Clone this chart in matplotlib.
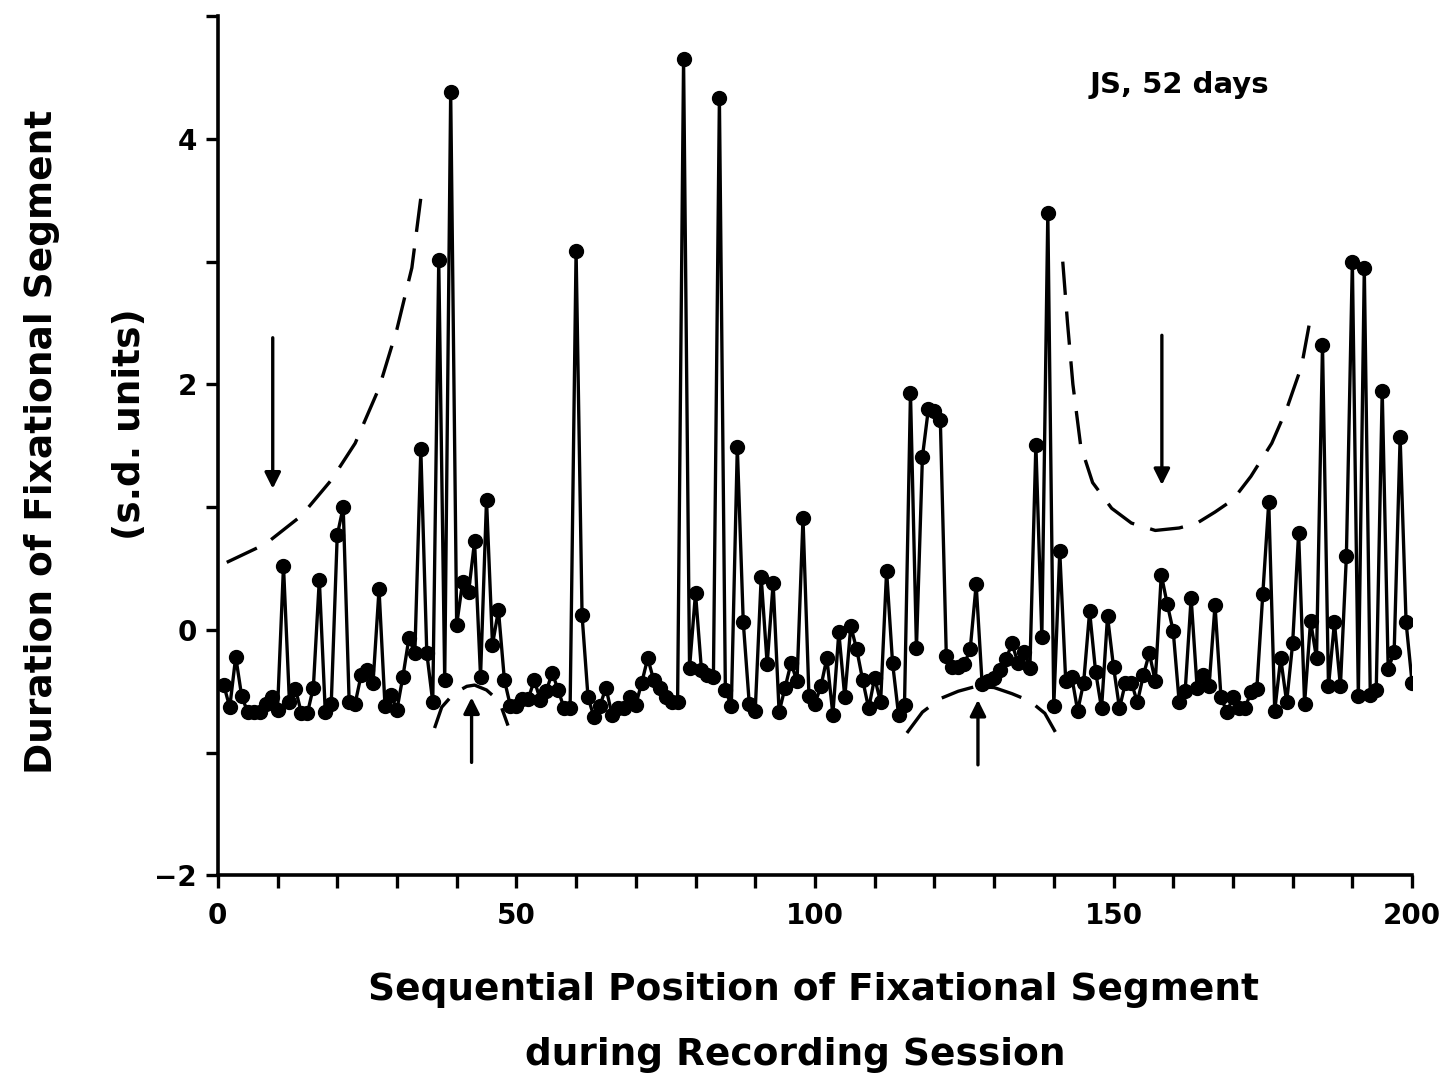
import numpy as np
import matplotlib
matplotlib.use("Agg")
import matplotlib.pyplot as plt
from matplotlib.ticker import MultipleLocator

plt.rcParams["font.family"] = ["DejaVu Sans"]
plt.rcParams["font.weight"] = "bold"

# Standardised durations, segment 1..200
durations = [
    -0.45, -0.63, -0.22, -0.54, -0.67, -0.67, -0.67, -0.60, -0.55, -0.65,
    0.52, -0.59, -0.48, -0.68, -0.68, -0.47, 0.41, -0.67, -0.60, 0.77,
    1.00, -0.59, -0.60, -0.37, -0.33, -0.43, 0.33, -0.62, -0.53, -0.65,
    -0.38, -0.07, -0.19, 1.47, -0.19, -0.59, 3.01, -0.41, 4.38, 0.04,
    0.39, 0.31, 0.72, -0.38, 1.06, -0.12, 0.16, -0.41, -0.62, -0.62,
    -0.56, -0.56, -0.41, -0.57, -0.50, -0.35, -0.49, -0.64, -0.64, 3.09,
    0.12, -0.55, -0.71, -0.62, -0.47, -0.69, -0.64, -0.64, -0.55, -0.61,
    -0.43, -0.23, -0.41, -0.47, -0.55, -0.59, -0.59, 4.65, -0.31, 0.30,
    -0.33, -0.37, -0.38, 4.33, -0.49, -0.62, 1.49, 0.06, -0.60, -0.66,
    0.43, -0.28, 0.38, -0.67, -0.47, -0.27, -0.42, 0.91, -0.54, -0.60,
    -0.46, -0.23, -0.69, -0.02, -0.55, 0.03, -0.16, -0.41, -0.64, -0.39,
    -0.59, 0.48, -0.27, -0.69, -0.61, 1.93, -0.15, 1.41, 1.80, 1.78,
    1.71, -0.21, -0.30, -0.30, -0.28, -0.16, 0.37, -0.44, -0.42, -0.39,
    -0.33, -0.24, -0.11, -0.27, -0.18, -0.31, 1.51, -0.06, 3.40, -0.62,
    0.64, -0.42, -0.38, -0.66, -0.43, 0.15, -0.34, -0.64, 0.11, -0.30,
    -0.64, -0.43, -0.43, -0.59, -0.37, -0.19, -0.42, 0.45, 0.21, -0.01,
    -0.59, -0.50, 0.26, -0.47, -0.37, -0.46, 0.20, -0.55, -0.67, -0.55,
    -0.64, -0.64, -0.51, -0.48, 0.29, 1.04, -0.66, -0.23, -0.59, -0.11,
    0.79, -0.60, 0.07, -0.23, 2.32, -0.46, 0.06, -0.46, 0.60, 3.00,
    -0.54, 2.95, -0.53, -0.49, 1.95, -0.32, -0.18, 1.57, 0.06, -0.43,
]
positions = np.arange(1, len(durations) + 1)

# hand-drawn envelope curves (x, y)
upper_left_x = [1.5, 8, 14, 19, 23, 27, 30, 32.5, 34]
upper_left_y = [0.55, 0.70, 0.93, 1.22, 1.52, 1.97, 2.45, 2.95, 3.52]
upper_right_x = [141.5, 142.3, 143.2, 144.5, 146.5, 149.7, 153, 157, 161, 164,
                 167, 170, 173, 176.5, 179, 181.5, 183.2]
upper_right_y = [3.0, 2.5, 2.0, 1.5, 1.2, 0.99, 0.87, 0.81, 0.83, 0.87,
                 0.96, 1.06, 1.25, 1.52, 1.8, 2.15, 2.6]
lower_left_x = [36.3, 37.5, 39.5, 41.7, 43, 45, 46.4, 47.5, 48.6]
lower_left_y = [-0.80, -0.63, -0.52, -0.46, -0.45, -0.49, -0.55, -0.63, -0.78]
lower_right_x = [115.4, 118, 121, 124, 127, 130, 133, 136, 138.5, 140.7]
lower_right_y = [-0.84, -0.67, -0.56, -0.50, -0.46, -0.47, -0.52, -0.58, -0.68, -0.87]

# arrows: (x, y_start, y_end)
arrows = [(9.2, 2.38, 1.15), (158.1, 2.40, 1.18),
          (42.5, -1.08, -0.55), (127.3, -1.10, -0.57)]

fig = plt.figure(figsize=(14.52, 10.78), dpi=100)
ax = fig.add_axes([0.150, 0.188, 0.8225, 0.797])

ax.plot(positions, durations, color="black", linewidth=2.4,
        marker="o", markersize=10, markerfacecolor="black",
        markeredgecolor="black", zorder=3)

for cx, cy in [(upper_left_x, upper_left_y), (upper_right_x, upper_right_y),
               (lower_left_x, lower_left_y), (lower_right_x, lower_right_y)]:
    ax.plot(cx, cy, color="black", linewidth=2.4, linestyle=(0, (10, 5)),
            zorder=2)

for x, y0, y1 in arrows:
    ax.annotate("", xy=(x, y1), xytext=(x, y0),
                arrowprops=dict(arrowstyle="-|>", color="black", lw=2.4,
                                mutation_scale=24, shrinkA=0, shrinkB=0))

ax.text(161, 4.44, "JS, 52 days", fontsize=21, fontweight="bold",
        ha="center", va="center")

ax.set_xlim(0, 200)
ax.set_ylim(-2, 5)
ax.xaxis.set_major_locator(MultipleLocator(50))
ax.xaxis.set_minor_locator(MultipleLocator(10))
ax.yaxis.set_major_locator(MultipleLocator(2))
ax.yaxis.set_minor_locator(MultipleLocator(1))
ax.set_yticks([-2, 0, 2, 4])
ax.tick_params(which="both", direction="out", length=9, width=2.4)
ax.tick_params(axis="x", labelsize=20, pad=10)
ax.tick_params(axis="y", labelsize=20, pad=6)
for lab in ax.get_xticklabels() + ax.get_yticklabels():
    lab.set_fontweight("bold")

ax.spines["top"].set_visible(False)
ax.spines["right"].set_visible(False)
ax.spines["left"].set_linewidth(2.6)
ax.spines["bottom"].set_linewidth(2.6)

fig.text(0.5606, 0.0816, "Sequential Position of Fixational Segment",
         fontsize=27, fontweight="bold", ha="center", va="center")
fig.text(0.5475, 0.0213, "during Recording Session",
         fontsize=27, fontweight="bold", ha="center", va="center")
fig.text(0.029, 0.590, "Duration of Fixational Segment",
         fontsize=27, fontweight="bold", ha="center", va="center", rotation=90)
fig.text(0.0895, 0.607, "(s.d. units)",
         fontsize=27, fontweight="bold", ha="center", va="center", rotation=90)

fig.savefig("out.png", dpi=100)
